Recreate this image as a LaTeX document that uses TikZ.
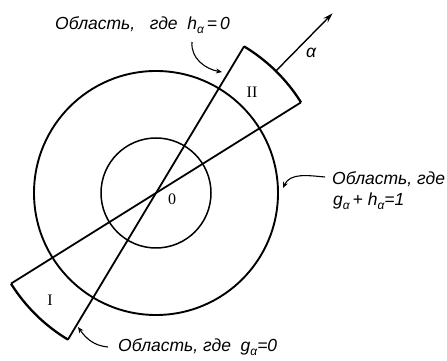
\documentclass[tikz,border=0pt]{standalone}
\usepackage{fontspec}
\setmainfont{Liberation Sans}
\newfontfamily\serifnum{Liberation Serif}
\usetikzlibrary{arrows.meta,calc}
\newcommand{\lowsub}[1]{\raisebox{-0.4ex}{\fontsize{12}{12}\selectfont #1}}
\tikzset{
  lbl/.style={font=\fontsize{17.5}{20}\selectfont\itshape, inner sep=0pt},
  roman/.style={font=\serifnum\fontsize{16}{18}\selectfont, inner sep=0pt},
  rim/.style={line width=2.3pt},
  wedge/.style={line width=1.8pt},
  pointer/.style={line width=1.1pt, -{Stealth[length=6pt,width=5pt]}},
}
\begin{document}
\begin{tikzpicture}[x=1pt,y=1pt]
\useasboundingbox (0,0) rectangle (447,361);
\coordinate (O) at (156,168);
% circles
\draw[line width=1.9pt] (O) circle[radius=122];
\draw[line width=1.5pt] (O) circle[radius=55];
% wedge lines
\draw[wedge] ($(O)+(212:171)$) coordinate (B1) -- ($(O)+(32:171)$) coordinate (A1);
\draw[wedge] ($(O)+(239:171)$) coordinate (B2) -- ($(O)+(59:171)$) coordinate (A2);
% sector arcs
\draw[rim] (A1) arc[start angle=32, end angle=59, radius=171];
\draw[rim] (B1) arc[start angle=212, end angle=239, radius=171];
% alpha axis
\coordinate (S) at ($(O)+(45.5:172)$);
\coordinate (T) at ($(O)+(45.5:252)$);
\draw[line width=1.4pt, -{Stealth[length=10pt,width=6pt]}] (S) -- (T);
\node[lbl] (al) at (311,308) {α};
% labels inside
\node[roman] (I) at (50,61) {I};
\node[roman] (II) at (252,269) {II};
\node[roman] (Ol) at (172,162) {0};
% text labels
\node[lbl, anchor=base west] (top) at (55,331) {Область,\ \ \ где\ \ h\lowsub{α}\,=\,0};
\node[lbl, anchor=base west] (r1) at (332,176) {Область,\ где};
\node[lbl, anchor=base west] (r2) at (333,155) {g\lowsub{α}\,+\ h\lowsub{α}=1};
\node[lbl, anchor=base west] (bot) at (118,9) {Область,\ где\ \ g\lowsub{α}=0};
% pointers
\coordinate (tp) at (222,289);
\coordinate (rp) at (283,173);
\coordinate (bp) at (78,34);
\draw[pointer] (192,319) to[out=-95,in=170] (tp);
\draw[pointer] (325,184) to[out=175,in=65] (rp);
\draw[pointer] (108,14) to[out=175,in=-55] (bp);
\end{tikzpicture}
\end{document}
